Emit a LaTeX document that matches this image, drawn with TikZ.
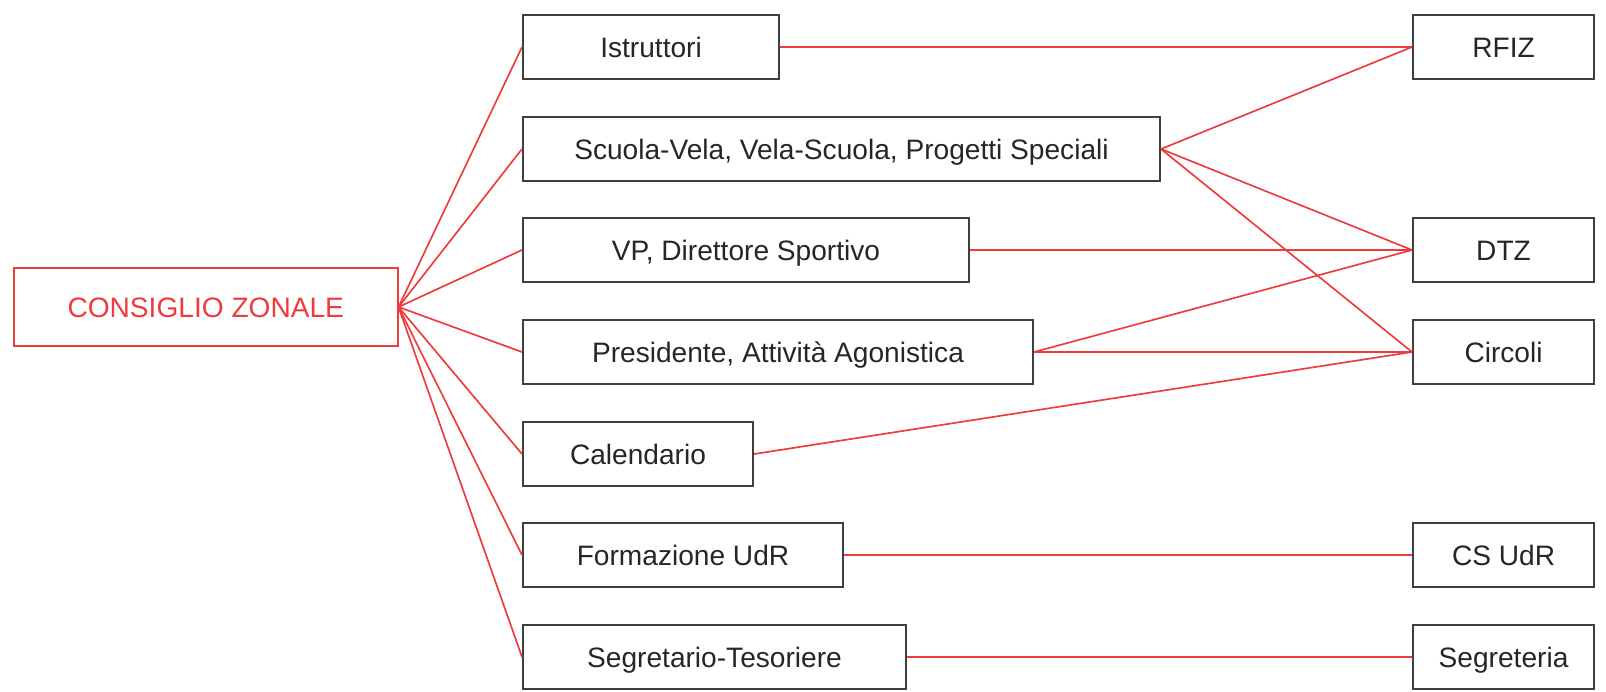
\documentclass[tikz,border=0pt]{standalone}
\usepackage{fontspec}
\setmainfont{Liberation Sans}
\usepackage{tikz}
\usetikzlibrary{positioning}

\definecolor{linkred}{RGB}{238,60,60}

\begin{document}
\begin{tikzpicture}[
  x=0.02cm, y=-0.02cm,
  font=\fontsize{16}{19}\selectfont,
  office/.style={draw=black!75, line width=1.2pt, text=black!85, minimum height=1.28cm, anchor=west, inner sep=0pt, text height=11.5pt, text depth=0pt},
  board/.style={draw=linkred, line width=0.9pt, text=linkred, minimum width=7.68cm, minimum height=1.56cm, anchor=west, inner sep=0pt, text height=11.5pt, text depth=0pt},
  link/.style={draw=linkred, line width=0.95pt},
]
\useasboundingbox (0,0) rectangle (1606,691);
% ---- council
\node[board] (cz) at (13,307) {CONSIGLIO ZONALE};
% ---- offices (left column)
\node[office, minimum width=5.12cm]  (istr) at (522,47)  {Istruttori};
\node[office, minimum width=12.74cm] (scuo) at (522,149) {Scuola-Vela, Vela-Scuola, Progetti Speciali};
\node[office, minimum width=8.92cm]  (vp)   at (522,250) {VP, Direttore Sportivo};
\node[office, minimum width=10.2cm]  (pres) at (522,352) {Presidente, Attività Agonistica};
\node[office, minimum width=4.6cm]   (cal)  at (522,454) {Calendario};
\node[office, minimum width=6.4cm]   (form) at (522,555) {Formazione UdR};
\node[office, minimum width=7.66cm]  (segr) at (522,657) {Segretario-Tesoriere};
% ---- bodies (right column)
\node[office, minimum width=3.62cm] (rfiz) at (1412,47)  {RFIZ};
\node[office, minimum width=3.62cm] (dtz)  at (1412,250) {DTZ};
\node[office, minimum width=3.62cm] (circ) at (1412,352) {Circoli};
\node[office, minimum width=3.62cm] (csu)  at (1412,555) {CS UdR};
\node[office, minimum width=3.62cm] (segt) at (1412,657) {Segreteria};
% council to offices
\foreach \o in {istr,scuo,vp,pres,cal,form,segr}
  \draw[link] (cz.east) -- (\o.west);
% offices to bodies
\draw[link] (istr.east) -- (rfiz.west);
\draw[link] (scuo.east) -- (rfiz.west);
\draw[link] (scuo.east) -- (dtz.west);
\draw[link] (scuo.east) -- (circ.west);
\draw[link] (vp.east) -- (dtz.west);
\draw[link] (pres.east) -- (dtz.west);
\draw[link] (pres.east) -- (circ.west);
\draw[link] (cal.east) -- (circ.west);
\draw[link] (form.east) -- (csu.west);
\draw[link] (segr.east) -- (segt.west);
\end{tikzpicture}
\end{document}
